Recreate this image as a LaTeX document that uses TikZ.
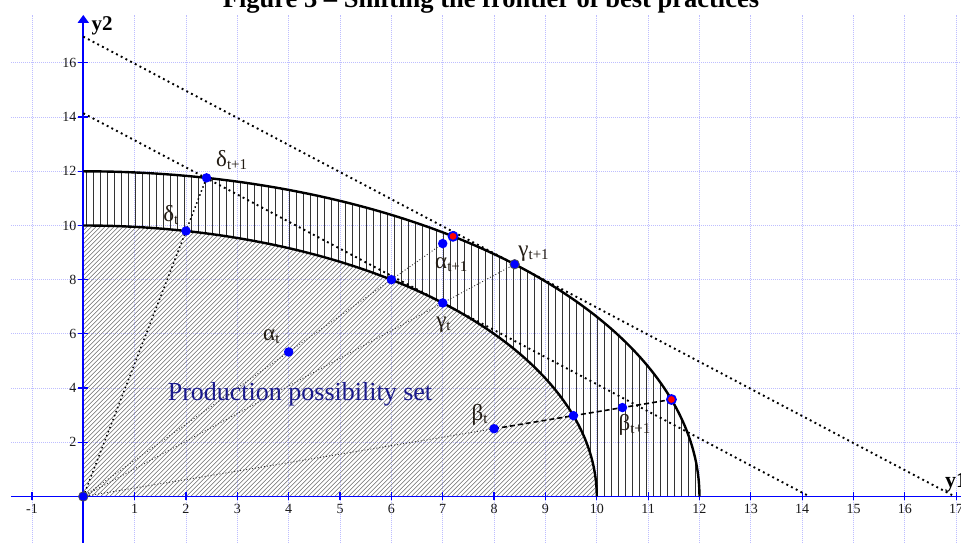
\documentclass[tikz,border=0pt]{standalone}
\usepackage{fontspec}
\setmainfont{Liberation Serif}
\usetikzlibrary{arrows.meta}
\definecolor{gridc}{RGB}{190,190,255}
\definecolor{axisb}{RGB}{0,0,255}
\definecolor{navyc}{RGB}{25,25,140}
\definecolor{labc}{RGB}{35,28,20}
\newcommand\glab[2]{{\fontsize{23}{24}\selectfont #1}{\fontsize{15}{16}\selectfont\raisebox{-3pt}{#2}}}
\tikzset{
 gridline/.style={gridc, line width=0.8pt, dash pattern=on 1pt off 1pt},
 axisline/.style={axisb, line width=1.8pt},
 tickmark/.style={axisb, line width=1.2pt},
 frontier/.style={black, line width=2.4pt},
 hatchd/.style={black!60, line width=0.5pt},
 hatchv/.style={black!80, line width=0.75pt},
 tangent/.style={black, line width=1.9pt, dash pattern=on 1.9pt off 3.4pt},
 ray/.style={black!80, line width=0.9pt, dash pattern=on 1pt off 2pt},
 rayd/.style={black, line width=1.5pt, dash pattern=on 1.5pt off 2.8pt},
 dashseg/.style={black, line width=1.6pt, dash pattern=on 5pt off 3pt},
 bpt/.style={circle, fill=axisb, inner sep=0pt, minimum size=9.5pt},
 bptr/.style={circle, fill=axisb, draw=black!70, line width=0.7pt, inner sep=0pt, minimum size=9.5pt},
 rpt/.style={circle, fill=red, draw=axisb, line width=1.8pt, inner sep=0pt, minimum size=9pt},
 ticklab/.style={text=black!90, font=\fontsize{14}{15}\selectfont, inner sep=0pt},
 glabel/.style={text=labc, inner sep=0pt, anchor=base west},
}
\begin{document}
\begin{tikzpicture}[x=51.35pt, y=27.1pt]
\useasboundingbox (-1.622,-1.716) rectangle (17.093,18.321);
% grid
\foreach \x in {-1,1,2,...,17} \draw[gridline] (\x,-1.8) -- (\x,17.77);
\foreach \y in {2,4,...,16} \draw[gridline] (-1.40,\y) -- (17.2,\y);
% inner hatch
\begin{scope}
\clip (0,0) -- plot[domain=0:90, samples=120] ({10*cos(\x)},{10*sin(\x)}) -- cycle;
\foreach \k in {-284,-279.5,...,520} \draw[hatchd] ([xshift=\k pt]0,0) -- ++(300pt,300pt);
\end{scope}
% ring hatch
\begin{scope}
\clip plot[domain=0:90, samples=120] ({12*cos(\x)},{12*sin(\x)}) -- plot[domain=90:0, samples=120] ({10*cos(\x)},{10*sin(\x)}) -- cycle;
\foreach \k in {3.5,10.5,...,620} \draw[hatchv] ([xshift=\k pt]0,0) -- ++(0,12.2);
\end{scope}
% axes
\draw[axisline] (-1.40,0) -- (17.3,0);
\draw[axisline, -{Triangle[length=8pt,width=11pt]}] (0,-1.8) -- (0,17.77);
\foreach \x in {-1,1,2,...,17} {
  \draw[tickmark] (\x,0) ++(0pt,-4pt) -- ++(0pt,8pt);
  \node[ticklab] (xl\x) at (\x,-0.47) {\x};
}
\foreach \y in {2,4,...,16} {
  \draw[tickmark] (0,\y) ++(-5pt,0pt) -- ++(10pt,0pt);
  \node[ticklab, anchor=east] (yl\y) at (-0.13,\y) {\y};
}
\node[anchor=base west, inner sep=0pt, font=\bfseries\fontsize{21}{22}\selectfont] (ytwo) at (0.16,17.18) {y2};
\node[anchor=base west, inner sep=0pt, font=\bfseries\fontsize{22}{23}\selectfont] (yone) at (16.78,0.32) {y1};
\node[anchor=base, inner sep=0pt, font=\bfseries\fontsize{26.5}{28}\selectfont] (title) at (7.94,18.03) {Figure 3 – Shifting the frontier of best practices};
% frontiers
\draw[frontier] plot[domain=0:90, samples=120] ({10*cos(\x)},{10*sin(\x)});
\draw[frontier] plot[domain=0:90, samples=120] ({12*cos(\x)},{12*sin(\x)});
% coordinates
\coordinate (O) at (0,0);
\coordinate (dt) at (2,9.798);
\coordinate (dt1) at (2.4,11.758);
\coordinate (at) at (4,5.333);
\coordinate (am) at (6,8);
\coordinate (at1) at (7,9.333);
\coordinate (ar) at (7.2,9.6);
\coordinate (gt) at (7,7.141);
\coordinate (gt1) at (8.4,8.570);
\coordinate (bt) at (8,2.5);
\coordinate (bm) at (9.545,2.983);
\coordinate (bt1) at (10.5,3.281);
\coordinate (br) at (11.454,3.579);
\coordinate (la) at (0,14.142);
\coordinate (lb) at (14.142,0);
\coordinate (lc) at (0,16.97);
\coordinate (ld) at (16.97,0);
% tangent lines
\draw[tangent] (la) -- (lb);
\draw[tangent] (lc) -- (ld);
% rays
\draw[rayd] (O) -- (dt1);
\draw[ray] (O) -- (at) -- (at1);
\draw[ray] (O) -- (gt1);
\draw[ray] (O) -- (bt);
\draw[dashseg] (bt) -- (bm) -- (bt1) -- (br);
% points
\node[bptr] (pO) at (O) {};
\node[bpt] (pdt) at (dt) {};
\node[bpt] (pdt1) at (dt1) {};
\node[bpt] (pat) at (at) {};
\node[bpt] (pam) at (am) {};
\node[bpt] (pat1) at (at1) {};
\node[rpt] (par) at (ar) {};
\node[bpt] (pgt) at (gt) {};
\node[bptr] (pgt1) at (gt1) {};
\node[bpt] (pbt) at (bt) {};
\node[bpt] (pbm) at (bm) {};
\node[bpt] (pbt1) at (bt1) {};
\node[rpt] (pbr) at (br) {};
% labels
\node[glabel] (ldt1) at (2.584,12.17) {\glab{δ}{t+1}};
\node[glabel] (ldt) at (1.556,10.14) {\glab{δ}{t}};
\node[glabel] (lat) at (3.50,5.77) {\glab{α}{t}};
\node[glabel] (lat1) at (6.85,8.42) {\glab{α}{t+1}};
\node[glabel] (lgt1) at (8.47,8.84) {\glab{γ}{t+1}};
\node[glabel] (lgt) at (6.87,6.22) {\glab{γ}{t}};
\node[glabel] (lbt) at (7.56,2.79) {\glab{β}{t}};
\node[glabel] (lbt1) at (10.42,2.45) {\glab{β}{t+1}};
\node[text=navyc, inner sep=0pt, font=\fontsize{26}{28}\selectfont] (pps) at (4.22,3.78) {Production possibility set};
\end{tikzpicture}
\end{document}
